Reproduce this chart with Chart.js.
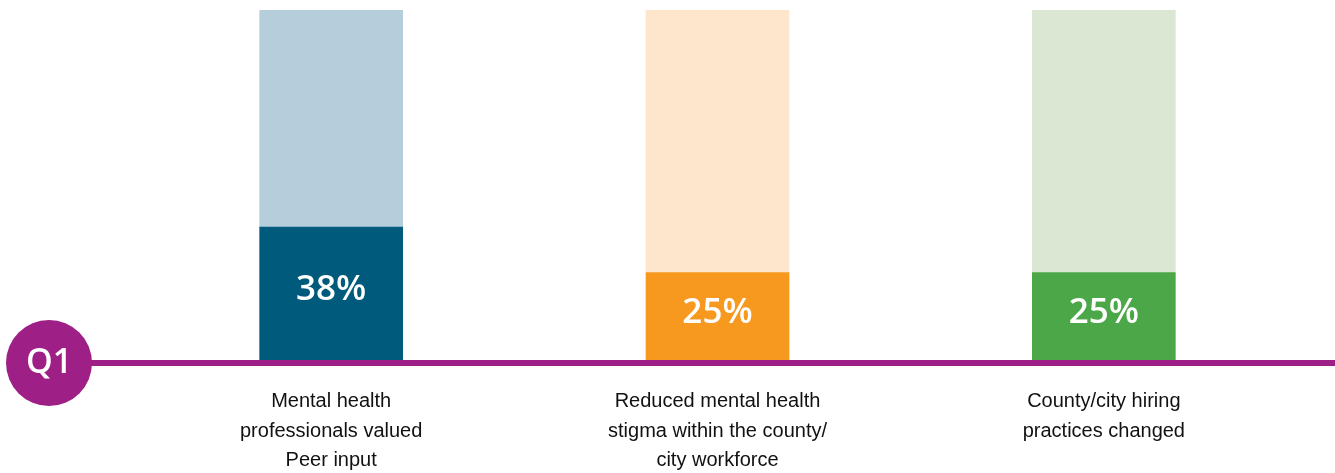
<!DOCTYPE html>
<html>
<head>
<meta charset="utf-8">
<script src="https://cdn.jsdelivr.net/npm/chart.js@4"></script>
<style>
  html, body { margin: 0; padding: 0; background: #ffffff; }
  #wrap { width: 1335px; height: 473px; position: relative; }
</style>
</head>
<body>
<div id="wrap"><canvas id="c" width="1335" height="473"></canvas></div>
<script>
const categories = [
  ["Mental health", "professionals valued", "Peer input"],
  ["Reduced mental health", "stigma within the county/", "city workforce"],
  ["County/city hiring", "practices changed"]
];
const percentValues = [38, 25, 25];
const totalValue = 100;
const questionLabel = "Q1";

const darkColors = ["#005A7B", "#F7991F", "#4BA747"];
const lightColors = ["#B6CEDB", "#FDE6CB", "#DBE6D3"];
const purple = "#9E1F86";

const remainder = percentValues.map(v => totalValue - v);

const decoPlugin = {
  id: 'deco',
  afterDatasetsDraw(chart) {
    const ctx = chart.ctx;
    const ys = chart.scales.y;
    const base = ys.getPixelForValue(0);
    ctx.save();
    ctx.fillStyle = purple;
    ctx.fillRect(60, base, chart.width - 60, 6);
    ctx.beginPath();
    ctx.arc(49, base + 3, 43, 0, Math.PI * 2);
    ctx.fill();
    ctx.fillStyle = '#ffffff';
    ctx.font = '600 34px "Open Sans", sans-serif';
    ctx.textAlign = 'center';
    ctx.textBaseline = 'middle';
    ctx.fillText(questionLabel, 49, base + 3);
    const meta = chart.getDatasetMeta(0);
    ctx.font = '600 35px "Open Sans", sans-serif';
    meta.data.forEach((bar, i) => {
      const top = bar.y, bottom = bar.base;
      ctx.fillText(percentValues[i] + '%', bar.x, (top + bottom) / 2 - 3);
    });
    ctx.restore();
  }
};

new Chart(document.getElementById('c'), {
  type: 'bar',
  data: {
    labels: categories,
    datasets: [
      { data: percentValues, backgroundColor: darkColors, borderWidth: 0, barThickness: 143 },
      { data: remainder, backgroundColor: lightColors, borderWidth: 0, barThickness: 143 }
    ]
  },
  options: {
    responsive: false,
    animation: false,
    devicePixelRatio: 1,
    layout: { padding: { left: 138, right: 38, top: 10, bottom: 0 } },
    plugins: { legend: { display: false }, tooltip: { enabled: false } },
    scales: {
      x: {
        stacked: true,
        offset: true,
        grid: { display: false, drawTicks: false },
        border: { display: false },
        ticks: {
          color: '#111111',
          padding: 27,
          font: { family: '"Liberation Sans", Arial, sans-serif', size: 20, lineHeight: 1.47 },
          maxRotation: 0,
          autoSkip: false
        },
        afterFit(scale) { scale.height = 113; }
      },
      y: {
        stacked: true,
        display: false,
        min: 0,
        max: totalValue
      }
    }
  },
  plugins: [decoPlugin]
});
</script>
</body>
</html>
